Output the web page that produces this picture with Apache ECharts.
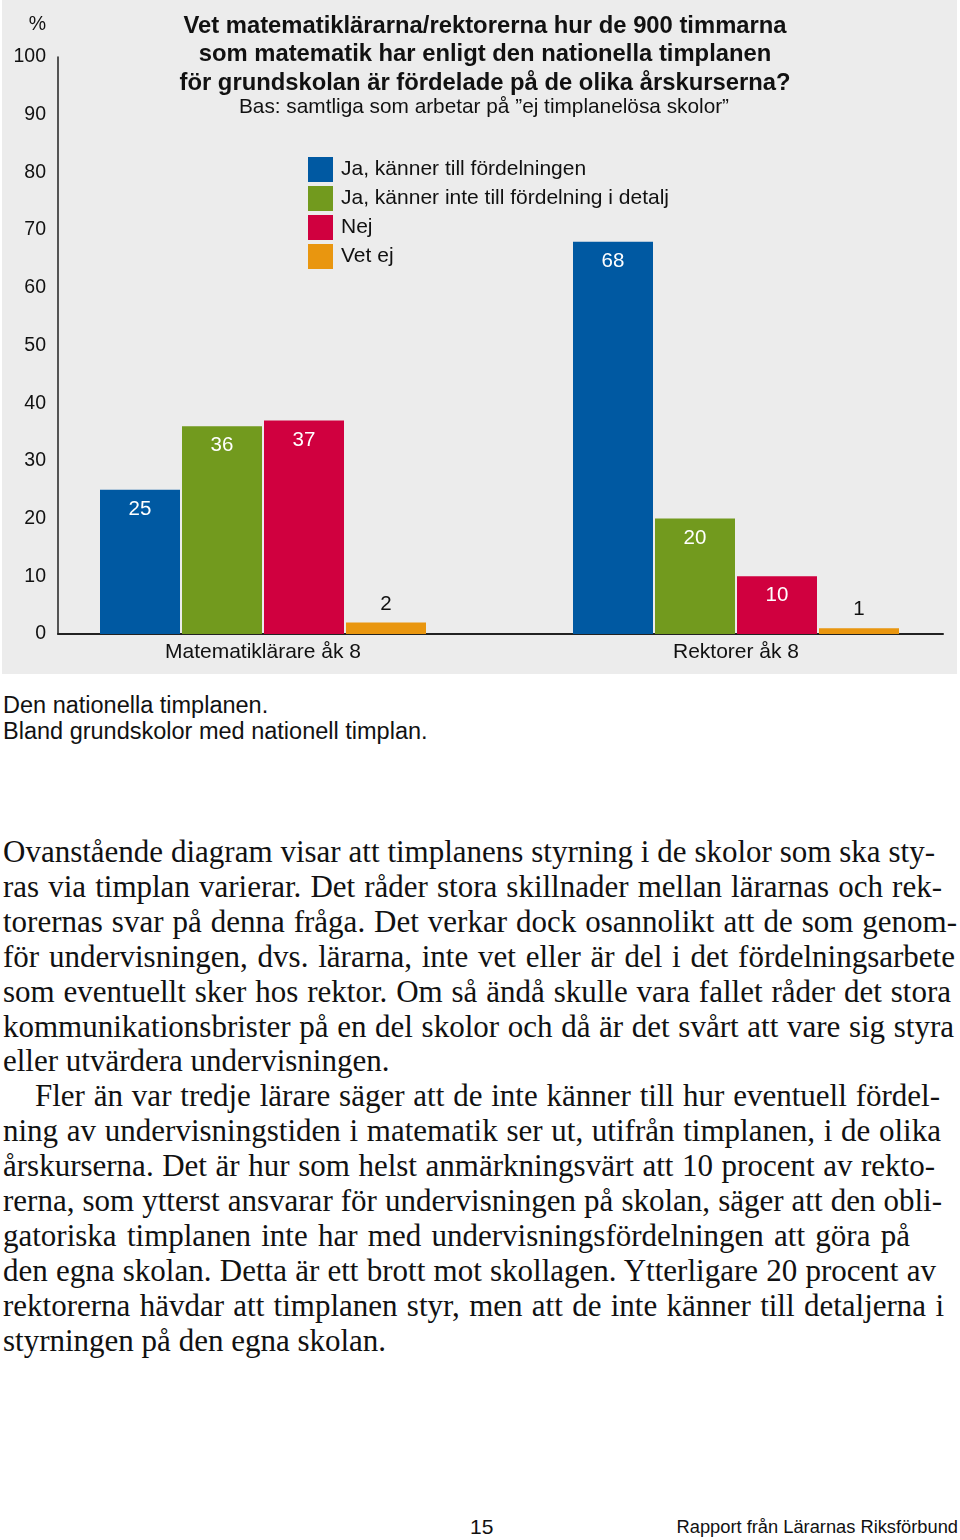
<!DOCTYPE html>
<html><head><meta charset="utf-8">
<script src="https://cdn.jsdelivr.net/npm/echarts@6/dist/echarts.min.js"></script>
<style>
html,body{margin:0;padding:0;background:#fff;}
#page{position:relative;width:960px;height:1540px;overflow:hidden;}
#chart{position:absolute;left:0;top:0;width:960px;height:680px;}
.t{position:absolute;white-space:nowrap;color:#111;}
.sans{font-family:"Liberation Sans",Arial,sans-serif;}
.serif{font-family:"Liberation Serif","Times New Roman",serif;font-size:31px;line-height:34px;}
</style></head>
<body><div id="page"><div id="chart"></div></div>
<script>
const categories = ['Matematiklärare åk 8', 'Rektorer åk 8'];
const seriesNames = ['Ja, känner till fördelningen', 'Ja, känner inte till fördelning i detalj', 'Nej', 'Vet ej'];
const valuesJa = [25, 68];
const valuesJaInteDetalj = [36, 20];
const valuesNej = [37, 10];
const valuesVetEj = [2, 1];
const yTicks = [0, 10, 20, 30, 40, 50, 60, 70, 80, 90, 100];
const titleText = 'Vet matematiklärarna/rektorerna hur de 900 timmarna\nsom matematik har enligt den nationella timplanen\nför grundskolan är fördelade på de olika årskurserna?';
const subtitleText = 'Bas: samtliga som arbetar på ”ej timplanelösa skolor”';

const colors = ['#0059a2', '#729a1e', '#d0003f', '#e9960f'];
const seriesData = [valuesJa, valuesJaInteDetalj, valuesNej, valuesVetEj];

const chart = echarts.init(document.getElementById('chart'), null, {renderer: 'canvas'});
const font = '"Liberation Sans", Arial, sans-serif';
chart.setOption({
  animation: false,
  textStyle: {fontFamily: font},
  graphic: [{type: 'rect', left: 2, top: 0, shape: {width: 955, height: 674}, style: {fill: '#ececec'}, z: -10, silent: true}],
  title: [
    {text: titleText, left: 480, top: 7, textAlign: 'center',
     textStyle: {fontFamily: font, fontSize: 23.8, fontWeight: 'bold', color: '#111', lineHeight: 28.5}},
    {text: subtitleText, left: 479, top: 90, textAlign: 'center',
     textStyle: {fontFamily: font, fontSize: 20.8, fontWeight: 'normal', color: '#111', lineHeight: 24}}
  ],
  legend: {
    orient: 'vertical', left: 308, top: 157, padding: 0, itemWidth: 25, itemHeight: 25, itemGap: 4,
    icon: 'rect', data: seriesNames,
    textStyle: {fontFamily: font, fontSize: 21, color: '#111', padding: [0, 0, 0, 3]}
  },
  grid: [
    {left: 26.5, width: 946, top: 57, height: 577, outerBoundsMode: 'none', containLabel: false},
    {left: 58, width: 885, top: 57, height: 577, outerBoundsMode: 'none', containLabel: false}
  ],
  xAxis: [
    {type: 'category', gridIndex: 0, data: categories, axisLine: {show: false}, axisTick: {show: false},
     axisLabel: {fontFamily: font, fontSize: 21, color: '#111', margin: 8}},
    {type: 'category', gridIndex: 1, data: categories, axisLine: {show: true, lineStyle: {color: '#222', width: 2}},
     axisTick: {show: false}, axisLabel: {show: false}}
  ],
  yAxis: [
    {type: 'value', gridIndex: 0, min: 0, max: 100, interval: 10, offset: -31.5,
     name: '%', nameLocation: 'end', nameGap: 22,
     nameTextStyle: {fontFamily: font, fontSize: 19.5, color: '#111', align: 'right', padding: [0, 12, 0, 0]},
     axisLine: {show: true, lineStyle: {color: '#222', width: 1.5}}, axisTick: {show: false}, splitLine: {show: false},
     axisLabel: {fontFamily: font, fontSize: 19.5, color: '#111', margin: 12, customValues: yTicks}},
    {type: 'value', gridIndex: 1, min: 0, max: 100, show: false}
  ],
  series: seriesNames.map((n, i) => ({
    name: n, type: 'bar', xAxisIndex: 0, yAxisIndex: 0, data: seriesData[i],
    barWidth: 80, barGap: '2.5%',
    itemStyle: {color: colors[i]},
    label: i < 3 ? {show: true, position: 'insideTop', distance: 9, color: '#fff', fontFamily: font, fontSize: 20.5}
                 : {show: true, position: 'top', distance: 8, color: '#111', fontFamily: font, fontSize: 20.5}
  }))
});

const page = document.getElementById('page');
function addText(txt, cls, left, top, size, extra) {
  const d = document.createElement('div');
  d.className = 't ' + cls;
  d.textContent = txt;
  d.style.left = left + 'px';
  d.style.top = top + 'px';
  if (size) { d.style.fontSize = size + 'px'; d.style.lineHeight = (size + 4) + 'px'; }
  if (extra) Object.assign(d.style, extra);
  page.appendChild(d);
  return d;
}
addText('Den nationella timplanen.', 'sans', 3, 706 - 14, 23.5);
addText('Bland grundskolor med nationell timplan.', 'sans', 3, 732 - 14, 23.5);

const bodyLines = [
  ['Ovanstående diagram visar att timplanens styrning i de skolor som ska sty-', 3, 935],
  ['ras via timplan varierar. Det råder stora skillnader mellan lärarnas och rek-', 3, 942],
  ['torernas svar på denna fråga. Det verkar dock osannolikt att de som genom-', 3, 957],
  ['för undervisningen, dvs. lärarna, inte vet eller är del i det fördelningsarbete', 3, 955],
  ['som eventuellt sker hos rektor. Om så ändå skulle vara fallet råder det stora', 3, 951],
  ['kommunikationsbrister på en del skolor och då är det svårt att vare sig styra', 3, 954],
  ['eller utvärdera undervisningen.', 3, null],
  ['Fler än var tredje lärare säger att de inte känner till hur eventuell fördel-', 35, 940],
  ['ning av undervisningstiden i matematik ser ut, utifrån timplanen, i de olika', 3, 941],
  ['årskurserna. Det är hur som helst anmärkningsvärt att 10 procent av rekto-', 3, 935],
  ['rerna, som ytterst ansvarar för undervisningen på skolan, säger att den obli-', 3, 942],
  ['gatoriska timplanen inte har med undervisningsfördelningen att göra på', 3, 910],
  ['den egna skolan. Detta är ett brott mot skollagen. Ytterligare 20 procent av', 3, 936],
  ['rektorerna hävdar att timplanen styr, men att de inte känner till detaljerna i', 3, 944],
  ['styrningen på den egna skolan.', 3, null]
];
bodyLines.forEach((l, i) => {
  const cy = 852 + i * 34.9;
  const d = addText(l[0], 'serif', l[1], cy - 17, null);
  if (l[2] !== null) {
    const w = d.getBoundingClientRect().width;
    const target = l[2] - l[1];
    const spaces = (l[0].match(/ /g) || []).length;
    d.style.wordSpacing = ((target - w) / spaces) + 'px';
  }
});

addText('15', 'sans', 470, 1526 - 12.5, 21);
const r = addText('Rapport från Lärarnas Riksförbund', 'sans', 0, 1527 - 11, 18.3);
r.style.left = (958 - r.getBoundingClientRect().width) + 'px';
</script>
</body></html>
